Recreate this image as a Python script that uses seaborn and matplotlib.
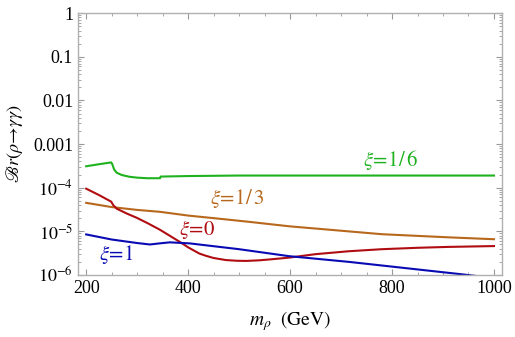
import numpy as np
import pandas as pd
import matplotlib
matplotlib.use("Agg")
import matplotlib.pyplot as plt
import matplotlib.ticker as mticker
import seaborn as sns

# data (m_rho in GeV, branching ratio)
m_16 = [200, 225, 249, 251, 255, 260, 270, 285, 300, 320, 345, 346, 400, 500, 700, 1000]
br_16 = [3.1e-4, 3.45e-4, 3.8e-4, 3.5e-4, 2.6e-4, 2.2e-4, 1.95e-4, 1.78e-4, 1.7e-4, 1.65e-4, 1.65e-4,
         1.8e-4, 1.85e-4, 1.9e-4, 1.9e-4, 1.9e-4]

m_13 = [200, 250, 300, 345, 400, 470, 520, 600, 650, 780, 910, 1000]
br_13 = [4.5e-5, 3.6e-5, 3.1e-5, 2.8e-5, 2.3e-5, 1.9e-5, 1.65e-5, 1.3e-5, 1.16e-5, 8.6e-6, 7.3e-6, 6.6e-6]

m_0 = [200, 225, 249, 253, 260, 280, 299, 320, 344, 365, 383, 400, 422, 435, 450, 474, 495, 514, 540,
       565, 598, 650, 715, 780, 850, 910, 1000]
br_0 = [9.5e-5, 6.8e-5, 4.8e-5, 4.0e-5, 3.3e-5, 2.55e-5, 2.05e-5, 1.55e-5, 1.1e-5, 7.8e-6, 5.8e-6, 4.3e-6,
        3.1e-6, 2.75e-6, 2.45e-6, 2.2e-6, 2.12e-6, 2.1e-6, 2.17e-6, 2.3e-6, 2.5e-6, 3.0e-6, 3.5e-6,
        3.9e-6, 4.2e-6, 4.4e-6, 4.6e-6]

m_1 = [200, 250, 300, 325, 344, 364, 403, 500, 598, 715, 936, 1000]
br_1 = [8.5e-6, 6.5e-6, 5.4e-6, 5.0e-6, 5.3e-6, 5.6e-6, 5.3e-6, 3.9e-6, 2.7e-6, 2.0e-6, 1.04e-6, 0.85e-6]

series = [("1/6", m_16, br_16, "#1fb21f"),
          ("1/3", m_13, br_13, "#b8681c"),
          ("0", m_0, br_0, "#b00d12"),
          ("1", m_1, br_1, "#0a0ab4")]

plt.rcParams["mathtext.fontset"] = "stix"
plt.rcParams["font.family"] = ["Liberation Serif", "DejaVu Serif"]

fig = plt.figure(figsize=(5.15, 3.37), dpi=100)
ax = fig.add_axes([0.1515, 0.184, 0.8235, 0.777])

for name, m, br, col in series:
    df = pd.DataFrame({"m": m, "br": br})
    sns.lineplot(data=df, x="m", y="br", color=col, lw=1.5, ax=ax)

ax.set_yscale("log")
ax.set_xlim(184, 1016)
ax.set_ylim(1e-6, 1)

ax.set_yticks([1e-6, 1e-5, 1e-4, 1e-3, 1e-2, 1e-1, 1])
ax.set_yticklabels([r"$10^{-6}$", r"$10^{-5}$", r"$10^{-4}$", "0.001", "0.01", "0.1", "1"])
ax.yaxis.set_minor_locator(mticker.LogLocator(base=10, subs=np.arange(2, 10)))
ax.yaxis.set_minor_formatter(mticker.NullFormatter())
ax.set_xticks([200, 400, 600, 800, 1000])
ax.xaxis.set_minor_locator(mticker.MultipleLocator(50))

ax.tick_params(which="both", direction="in", top=True, right=True, colors="#999999",
               labelcolor="black", labelsize=13)
ax.tick_params(which="major", length=4, width=0.8)
ax.tick_params(which="minor", length=2, width=0.6)
for s in ax.spines.values():
    s.set_color("#b0b0b0")
    s.set_linewidth(1.0)

ax.set_xlabel(r"$m_\rho\ \ \mathrm{(GeV)}$", fontsize=14, labelpad=9)
ax.set_ylabel(r"$\mathscr{B}r(\rho\!\rightarrow\!\gamma\gamma)$", fontsize=13, labelpad=6)

ax.text(797, 4.3e-4, r"$\xi\!=\!1/\,6$", color="#1fb21f", fontsize=15, ha="center", va="center")
ax.text(497, 5.7e-5, r"$\xi\!=\!1/\,3$", color="#b8681c", fontsize=15, ha="center", va="center")
ax.text(419, 1.12e-5, r"$\xi\!=\!0$", color="#b00d12", fontsize=15, ha="center", va="center")
ax.text(259, 3.0e-6, r"$\xi\!=\!1$", color="#0a0ab4", fontsize=15, ha="center", va="center")

fig.savefig("out.png", dpi=100)
